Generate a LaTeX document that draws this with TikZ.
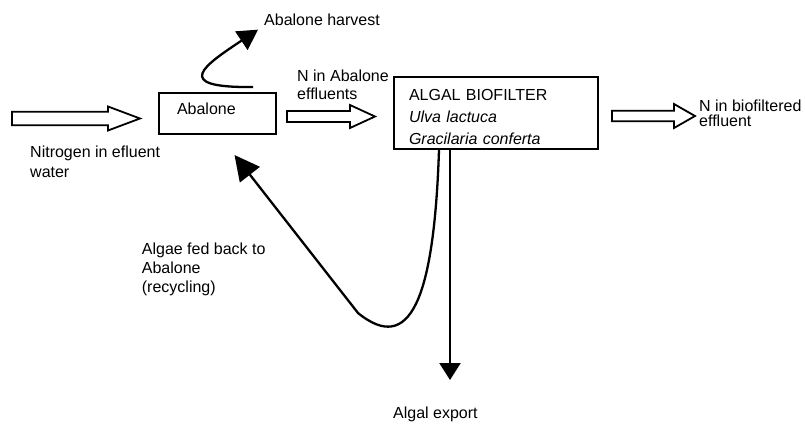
\documentclass[tikz,border=0pt]{standalone}
\usepackage{fontspec}
\setmainfont{Liberation Sans}
\usetikzlibrary{arrows.meta,calc}

\tikzset{
  box/.style={draw, line width=2pt, rectangle},
  hollow/.style={draw, line width=1.8pt, fill=white},
  flow/.style={line width=2.3pt, line join=round},
  lbl/.style={inner sep=0pt, align=left, anchor=north west},
}

% hollow flow arrow: from, to, half shaft, half head, head length
\newcommand{\fatarrow}[5]{%
  \draw[hollow] let \p1=(#1), \p2=(#2) in
    (\x1,\y1+#3) -- (\x2-#5,\y1+#3) -- (\x2-#5,\y1+#4) -- (\x2,\y1)
    -- (\x2-#5,\y1-#4) -- (\x2-#5,\y1-#3) -- (\x1,\y1-#3) -- cycle;}

\begin{document}
\begin{tikzpicture}[x=1pt, y=-1pt, font=\fontsize{16}{19}\selectfont]
  \useasboundingbox (0,0) rectangle (805,424);

  % Boxes
  \node[box, minimum width=117pt, minimum height=41pt, text width=81pt,
        text height=11.5pt, text depth=8.6pt, align=left] (abalone) at (217.5,113.5) {Abalone};
  \node[box, minimum width=204pt, minimum height=72pt, text width=174pt, align=left,
        font=\fontsize{16}{21.7}\selectfont] (biofilter) at (496,113)
        {\rule{0pt}{19.4pt}ALGAL BIOFILTER\\ \textit{Ulva lactuca}\\ \textit{Gracilaria conferta}};

  % Labels
  \node[lbl] (harvest) at (264,13.5) {Abalone harvest};
  \node[lbl, font=\fontsize{16}{20.3}\selectfont] (nitrogen) at (30,145.3) {Nitrogen in efluent\\water};
  \node[lbl, font=\fontsize{16}{17.6}\selectfont] (effluents) at (297,70.2) {N in Abalone\\effluents};
  \node[lbl, font=\fontsize{16}{15.3}\selectfont] (biofiltered) at (699,99.2) {N in biofiltered\\effluent};
  \node[lbl] (recycle) at (141.7,242.5) {Algae fed back to\\Abalone\\(recycling)};
  \node[lbl] (export) at (393,406.5) {Algal export};

  % Free ends
  \coordinate (inflow) at (12,118.5);
  \coordinate (inflowtip) at (140,118.5);
  \coordinate (exporttip) at (450,380);

  % Hollow flow arrows
  \fatarrow{inflow}{inflowtip}{6.7pt}{12pt}{32pt}
  \fatarrow{$(abalone.east)+(10,3)$}{$(biofilter.west)+(-18,3.5)$}{5.5pt}{11.5pt}{25pt}
  \fatarrow{$(biofilter.east)+(13,3)$}{$(biofiltered.west)+(-4,2)$}{5.2pt}{12pt}{21pt}

  % Abalone harvest
  \draw[flow, -{Triangle[length=20pt,width=22pt]}] ($(abalone.north east)+(-24,-5)$)
    .. controls (170,88) and (205,65) .. ($(harvest.south west)+(-6,4)$);

  % Algae fed back to abalone
  \draw[flow, -{Triangle[length=25pt,width=25pt]}] ($(biofilter.south)+(-57,0)$)
    .. controls (434,300) and (410,355) .. (358,313) -- ($(abalone.south)+(17,20)$);

  % Algal export
  \draw[flow, -{Triangle[length=17pt,width=21pt]}] ($(biofilter.south)+(-46,0)$) -- (exporttip);

\end{tikzpicture}
\end{document}
